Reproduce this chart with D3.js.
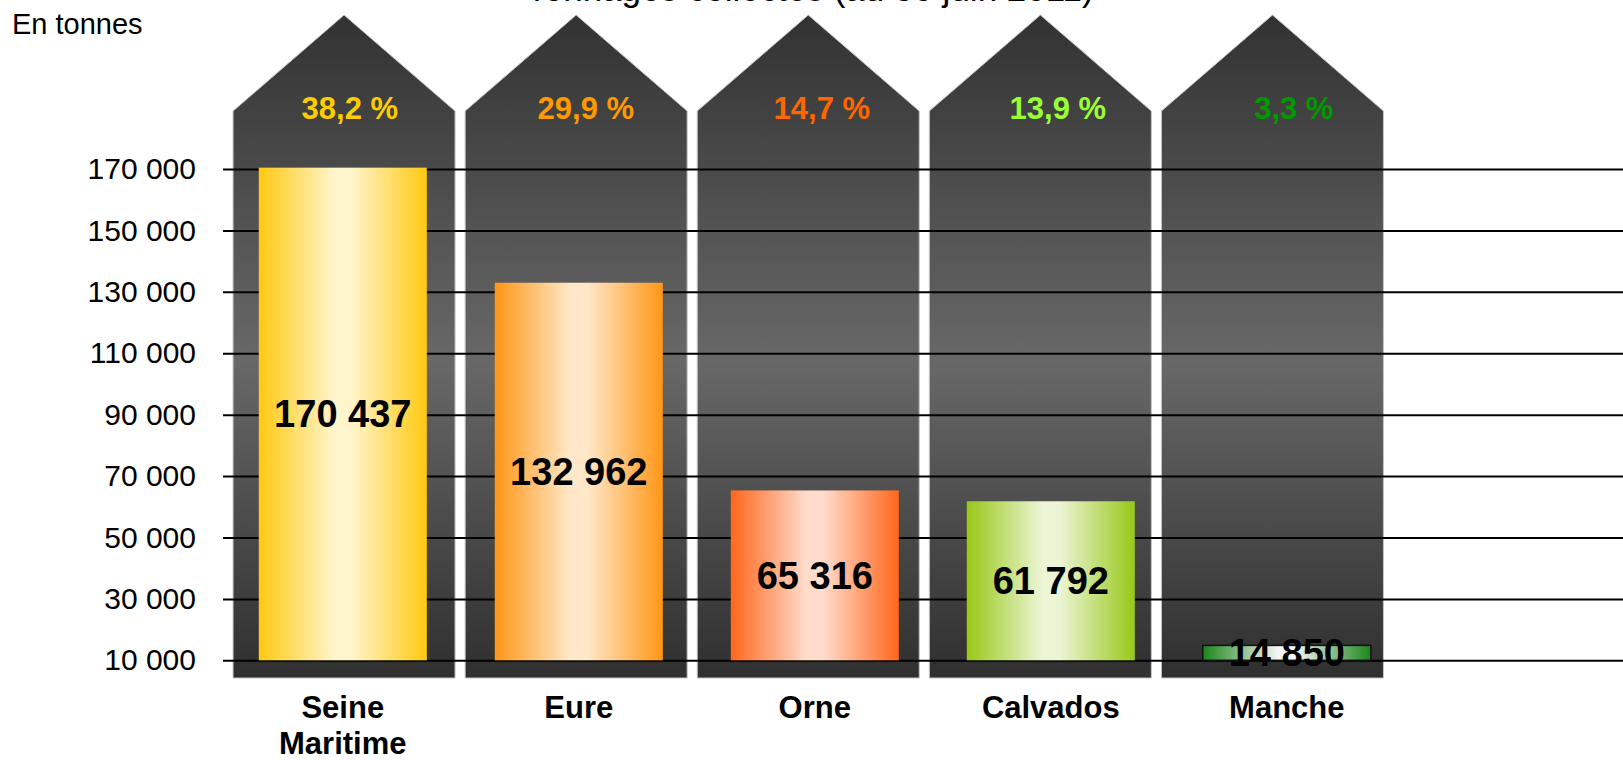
<!DOCTYPE html>
<html>
<head>
<meta charset="utf-8">
<script src="https://cdn.jsdelivr.net/npm/d3@7"></script>
<style>
body { margin: 0; background: #fff; }
text { font-family: "Liberation Sans", Arial, sans-serif; }
</style>
</head>
<body>
<svg></svg>
<script>

var screen = {width: 1623, height: 760};

// data
var departements = ["Seine Maritime", "Eure", "Orne", "Calvados", "Manche"];
var tonnages = [170437, 132962, 65316, 61792, 14850];
var pourcentages = ["38,2 %", "29,9 %", "14,7 %", "13,9 %", "3,3 %"];
var yTicks = [10000, 30000, 50000, 70000, 90000, 110000, 130000, 150000, 170000];

var barColors = ["#ffc910", "#ff9616", "#ff661c", "#98c818", "#1c861c"];
var barLight = ["#fff5cc", "#ffe8c9", "#ffdccb", "#ecf5d6", "#f6f6f6"];
var pctColors = ["#ffcc00", "#ff9900", "#ff6600", "#99ff33", "#009900"];

var data = departements.map(function(d, i) {
    return {name: d, value: tonnages[i], pct: pourcentages[i]};
});

var fmt = function(v) {
    return d3.format(",")(v).replace(/,/g, " ");
};

var svg = d3.select("svg")
    .attr("width", screen.width)
    .attr("height", screen.height);

var defs = svg.append("defs");

// house background gradient
var hg = defs.append("linearGradient")
    .attr("id", "houseGrad")
    .attr("gradientUnits", "userSpaceOnUse")
    .attr("x1", 0).attr("x2", 0)
    .attr("y1", 15).attr("y2", 678);
hg.append("stop").attr("offset", 0).attr("stop-color", "#323232");
hg.append("stop").attr("offset", 0.52).attr("stop-color", "#686868");
hg.append("stop").attr("offset", 1).attr("stop-color", "#2f2f2f");

// bar gradients
data.forEach(function(d, i) {
    var g = defs.append("linearGradient")
        .attr("id", "barGrad" + i)
        .attr("x1", 0).attr("x2", 1)
        .attr("y1", 0).attr("y2", 0);
    g.append("stop").attr("offset", 0).attr("stop-color", barColors[i]);
    g.append("stop").attr("offset", 0.45).attr("stop-color", barLight[i]);
    g.append("stop").attr("offset", 0.55).attr("stop-color", barLight[i]);
    g.append("stop").attr("offset", 1).attr("stop-color", barColors[i]);
});

var yScale = d3.scaleLinear()
    .domain([10000, 170000])
    .range([660.3, 169]);

var xHouse = d3.scaleBand()
    .domain(departements)
    .range([228, 1388.5])
    .paddingInner(0.0435)
    .paddingOuter(0.02175);

var xBar = d3.scaleBand()
    .domain(departements)
    .range([224.8, 1404.8])
    .paddingInner(0.288)
    .paddingOuter(0.144);

// title (mostly cut off at the top)
svg.append("text")
    .attr("x", 810)
    .attr("y", 1)
    .attr("text-anchor", "middle")
    .style("font-size", "35px")
    .text("Tonnages collectés (au 30 juin 2011)");

svg.append("text")
    .attr("x", 12)
    .attr("y", 34)
    .style("font-size", "29px")
    .text("En tonnes");

// houses
var roofTop = 15, shoulder = 111, houseBottom = 678;

svg.append("g")
    .attr("id", "houses")
    .selectAll("path")
    .data(data)
    .enter()
    .append("path")
    .attr("d", function(d) {
        var x0 = xHouse(d.name), w = xHouse.bandwidth();
        return "M" + x0 + "," + houseBottom +
            "L" + x0 + "," + shoulder +
            "L" + (x0 + w / 2) + "," + roofTop +
            "L" + (x0 + w) + "," + shoulder +
            "L" + (x0 + w) + "," + houseBottom + "Z";
    })
    .attr("fill", "url(#houseGrad)")
    .attr("stroke", "#c4c4c4")
    .attr("stroke-width", 1);

// gridlines + tick labels
var yAxis = d3.axisLeft(yScale)
    .tickValues(yTicks)
    .tickSize(-(screen.width - 223))
    .tickPadding(27)
    .tickFormat(fmt);

var ax = svg.append("g")
    .attr("class", "axis")
    .attr("transform", "translate(223,0)")
    .call(yAxis);

ax.select(".domain").remove();
ax.selectAll(".tick line")
    .attr("stroke", "#000")
    .attr("stroke-width", 2);
ax.selectAll(".tick text")
    .attr("fill", "#000")
    .style("font-size", "30px")
    .style("font-family", "'Liberation Sans', Arial, sans-serif");

// bars
var bars = svg.append("g").attr("id", "bars");

bars.selectAll("rect")
    .data(data)
    .enter()
    .append("rect")
    .attr("x", function(d) { return xBar(d.name); })
    .attr("y", function(d) { return yScale(d.value); })
    .attr("width", xBar.bandwidth())
    .attr("height", function(d) { return yScale(10000) - yScale(d.value); })
    .attr("fill", function(d, i) { return "url(#barGrad" + i + ")"; })
    .attr("stroke", function(d) { return d.value < 20000 ? "#111" : "none"; })
    .attr("stroke-width", 1.5);

// value labels inside bars
bars.selectAll(".val")
    .data(data)
    .enter()
    .append("text")
    .attr("class", "val")
    .attr("x", function(d) { return xBar(d.name) + xBar.bandwidth() / 2; })
    .attr("y", function(d) { return (yScale(d.value) + yScale(10000)) / 2; })
    .attr("dy", "0.35em")
    .attr("text-anchor", "middle")
    .style("font-size", "38px")
    .style("font-weight", "bold")
    .text(function(d) { return fmt(d.value); });

// percentages in the roofs
svg.append("g")
    .selectAll("text")
    .data(data)
    .enter()
    .append("text")
    .attr("x", function(d) { return xBar(d.name) + xBar.bandwidth() / 2 + 7; })
    .attr("y", 119)
    .attr("text-anchor", "middle")
    .attr("fill", function(d, i) { return pctColors[i]; })
    .style("font-size", "31px")
    .style("font-weight", "bold")
    .text(function(d) { return d.pct; });

// category labels
var cats = svg.append("g")
    .selectAll("text")
    .data(data)
    .enter()
    .append("text")
    .attr("x", function(d) { return xBar(d.name) + xBar.bandwidth() / 2; })
    .attr("y", 718)
    .attr("text-anchor", "middle")
    .style("font-size", "31px")
    .style("font-weight", "bold");

cats.selectAll("tspan")
    .data(function(d) { return d.name.split(" "); })
    .enter()
    .append("tspan")
    .attr("x", function() { return d3.select(this.parentNode).attr("x"); })
    .attr("dy", function(d, i) { return i === 0 ? 0 : 36; })
    .text(function(d) { return d; });

</script>
</body>
</html>
